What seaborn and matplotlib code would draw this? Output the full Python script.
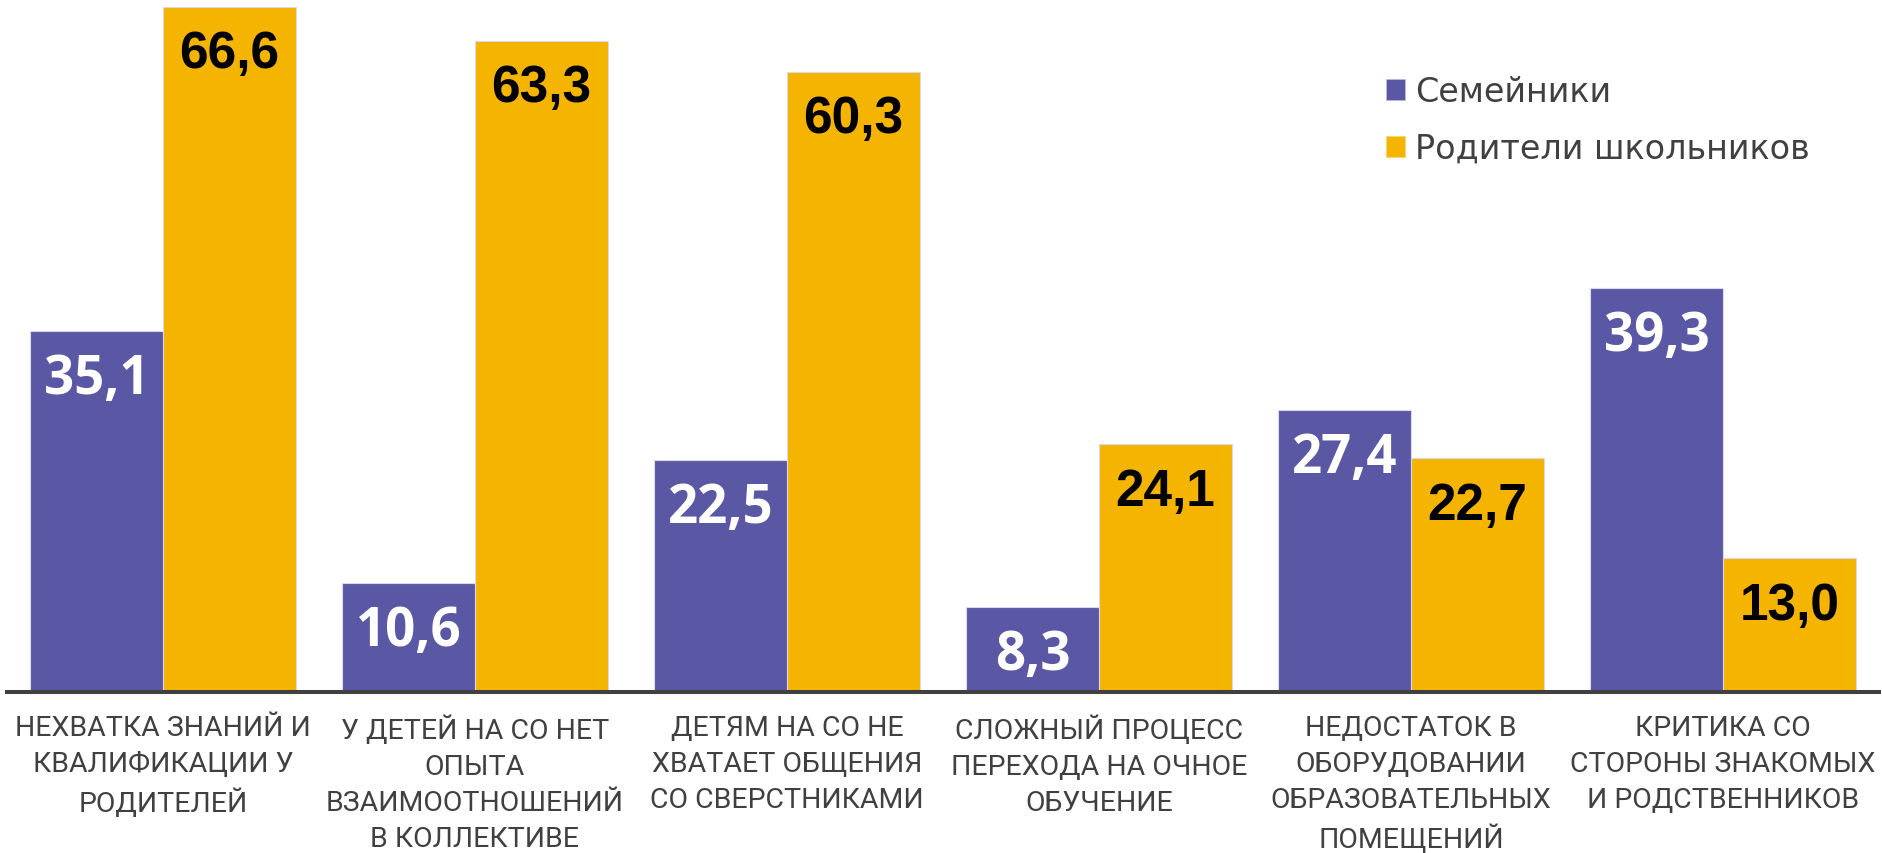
import matplotlib
matplotlib.use("Agg")
import matplotlib.pyplot as plt
from matplotlib.patches import Patch
import seaborn as sns
import pandas as pd

categories = [
    "НЕХВАТКА ЗНАНИЙ И\nКВАЛИФИКАЦИИ У\nРОДИТЕЛЕЙ",
    "У ДЕТЕЙ НА СО НЕТ\nОПЫТА\nВЗАИМООТНОШЕНИЙ\nВ КОЛЛЕКТИВЕ",
    "ДЕТЯМ НА СО НЕ\nХВАТАЕТ ОБЩЕНИЯ\nСО СВЕРСТНИКАМИ",
    "СЛОЖНЫЙ ПРОЦЕСС\nПЕРЕХОДА НА ОЧНОЕ\nОБУЧЕНИЕ",
    "НЕДОСТАТОК В\nОБОРУДОВАНИИ\nОБРАЗОВАТЕЛЬНЫХ\nПОМЕЩЕНИЙ",
    "КРИТИКА СО\nСТОРОНЫ ЗНАКОМЫХ\nИ РОДСТВЕННИКОВ",
]
series_names = ["Семейники", "Родители школьников"]
semeyniki = [35.1, 10.6, 22.5, 8.3, 27.4, 39.3]
roditeli = [66.6, 63.3, 60.3, 24.1, 22.7, 13.0]

PURPLE = "#5A58A4"
ORANGE = "#F4B400"
GREY = "#404040"

df = pd.DataFrame({
    "cat": categories * 2,
    "series": [series_names[0]] * 6 + [series_names[1]] * 6,
    "value": semeyniki + roditeli,
})

sns.set_theme(style="white")
plt.rcParams["font.family"] = ["DejaVu Sans"]

W, H = 1883, 854
fig = plt.figure(figsize=(W / 100, H / 100), dpi=100)
ax = fig.add_axes([7 / W, 161 / H, (1879 - 7) / W, 689.4 / H])

sns.barplot(data=df, x="cat", y="value", hue="series", order=categories,
            hue_order=series_names, palette=[PURPLE, ORANGE], width=0.853,
            saturation=1, edgecolor="#D8D8EE", linewidth=0.8, ax=ax,
            legend=False, errorbar=None)

ax.set_xlim(-0.5, 5.5)
ax.set_ylim(0, 67)
ax.set_xlabel("")
ax.set_ylabel("")
ax.set_yticks([])
for s in ["left", "right", "top"]:
    ax.spines[s].set_visible(False)
ax.spines["bottom"].set_color(GREY)
ax.spines["bottom"].set_linewidth(2.9)
ax.tick_params(axis="x", length=0, pad=16)
ax.set_xticks(range(len(categories)))
ax.set_xticklabels(categories)
for t in ax.get_xticklabels():
    t.set_fontsize(20.5)
    t.set_color(GREY)
    t.set_family(["Roboto", "DejaVu Sans"])
    t.set_linespacing(1.43)

# value labels
containers = ax.containers
for cont, vals, col in zip(containers, [semeyniki, roditeli], ["purple", "orange"]):
    for bar, v in zip(cont, vals):
        txt = f"{v:.1f}".replace(".", ",")
        x = bar.get_x() + bar.get_width() / 2
        y = bar.get_height()
        if col == "purple":
            ax.annotate(txt, (x, y), xytext=(0, -34.5), textcoords="offset points",
                        ha="center", va="center", color="white", fontsize=38,
                        family=["Open Sans", "DejaVu Sans"], fontweight="bold")
        else:
            ax.annotate(txt, (x, y), xytext=(0, -34), textcoords="offset points",
                        ha="center", va="center", color="black", fontsize=37,
                        family=["Liberation Sans", "DejaVu Sans"], fontweight="bold")

handles = [Patch(facecolor=PURPLE, edgecolor="#B8B8DC", linewidth=0.6),
           Patch(facecolor=ORANGE, edgecolor="#F8D870", linewidth=0.6)]
fig.legend(handles, series_names, loc="upper left",
           bbox_to_anchor=(1386 / W, (854 - 76) / H), frameon=False,
           fontsize=24, labelcolor=GREY, handlelength=0.58, handleheight=0.58,
           handletextpad=0.3, labelspacing=0.72, borderpad=0, borderaxespad=0)

fig.savefig("out.png", dpi=100)
